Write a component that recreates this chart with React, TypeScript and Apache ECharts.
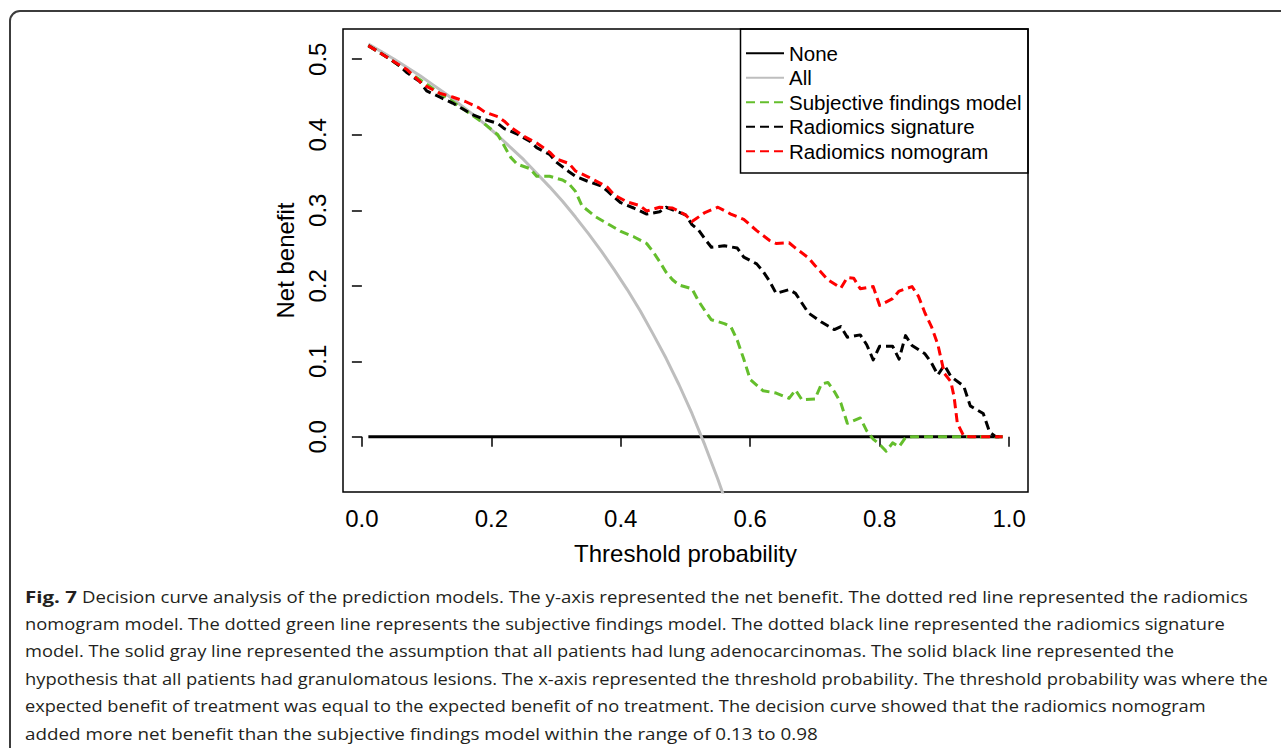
import React, { useEffect, useRef } from "react";
import * as echarts from "echarts";

// ---------- data ----------
const xTicks = [0, 0.2, 0.4, 0.6, 0.8, 1.0];
const yTicks = [0, 0.1, 0.2, 0.3, 0.4, 0.5];
const seriesNames = ["None", "All", "Subjective findings model", "Radiomics signature", "Radiomics nomogram"];

const noneLine: [number, number][] = [[0.01, 0], [0.99, 0]];

const allLine: [number, number][] = [
  [0.01, 0.52], [0.03, 0.51], [0.05, 0.5], [0.07, 0.489], [0.09, 0.478], [0.11, 0.466],
  [0.13, 0.454], [0.15, 0.441], [0.17, 0.428], [0.19, 0.414], [0.21, 0.399], [0.23, 0.383],
  [0.25, 0.367], [0.27, 0.349], [0.29, 0.331], [0.31, 0.312], [0.33, 0.291], [0.35, 0.269],
  [0.37, 0.246], [0.39, 0.221], [0.41, 0.195], [0.43, 0.167], [0.45, 0.136], [0.47, 0.104],
  [0.49, 0.069], [0.51, 0.031], [0.53, -0.011], [0.55, -0.056], [0.57, -0.105],
];

const subjectiveFindings: [number, number][] = [
  [0.01, 0.518], [0.04, 0.502], [0.07, 0.484], [0.1, 0.467], [0.12, 0.455], [0.14, 0.444],
  [0.16, 0.432], [0.18, 0.42], [0.19, 0.414], [0.21, 0.4], [0.22, 0.385], [0.23, 0.37],
  [0.24, 0.361], [0.26, 0.355], [0.27, 0.345], [0.29, 0.345], [0.31, 0.34], [0.32, 0.335],
  [0.33, 0.325], [0.34, 0.306], [0.36, 0.292], [0.38, 0.282], [0.4, 0.272], [0.42, 0.265],
  [0.44, 0.256], [0.45, 0.245], [0.46, 0.232], [0.47, 0.218], [0.48, 0.208], [0.49, 0.201],
  [0.51, 0.196], [0.52, 0.18], [0.53, 0.167], [0.54, 0.155], [0.56, 0.15], [0.57, 0.146],
  [0.58, 0.128], [0.59, 0.103], [0.6, 0.076], [0.62, 0.061], [0.64, 0.058], [0.66, 0.051],
  [0.67, 0.062], [0.68, 0.049], [0.7, 0.05], [0.71, 0.07], [0.72, 0.072], [0.73, 0.06],
  [0.74, 0.045], [0.75, 0.018], [0.77, 0.025], [0.78, 0.008], [0.79, -0.003], [0.8, -0.01],
  [0.81, -0.019], [0.82, -0.008], [0.83, -0.013], [0.84, -0.001], [0.85, 0], [0.99, 0],
];

const radiomicsSignature: [number, number][] = [
  [0.01, 0.518], [0.04, 0.502], [0.06, 0.49], [0.07, 0.482], [0.09, 0.47], [0.1, 0.458],
  [0.12, 0.45], [0.14, 0.442], [0.16, 0.432], [0.17, 0.427], [0.19, 0.42], [0.21, 0.415],
  [0.22, 0.408], [0.24, 0.401], [0.26, 0.391], [0.27, 0.383], [0.29, 0.374], [0.3, 0.364],
  [0.32, 0.351], [0.33, 0.345], [0.35, 0.338], [0.37, 0.332], [0.38, 0.325], [0.39, 0.317],
  [0.4, 0.31], [0.42, 0.303], [0.44, 0.295], [0.46, 0.298], [0.47, 0.304], [0.5, 0.294],
  [0.51, 0.281], [0.52, 0.274], [0.53, 0.262], [0.54, 0.251], [0.56, 0.253], [0.58, 0.25],
  [0.59, 0.238], [0.61, 0.229], [0.62, 0.219], [0.63, 0.206], [0.64, 0.19], [0.66, 0.195],
  [0.67, 0.19], [0.69, 0.164], [0.71, 0.152], [0.73, 0.142], [0.74, 0.146], [0.75, 0.132],
  [0.77, 0.135], [0.78, 0.122], [0.79, 0.102], [0.8, 0.12], [0.82, 0.12], [0.83, 0.103],
  [0.84, 0.134], [0.85, 0.121], [0.87, 0.11], [0.88, 0.098], [0.89, 0.082], [0.9, 0.095],
  [0.91, 0.08], [0.93, 0.067], [0.94, 0.041], [0.96, 0.031], [0.97, 0.006], [0.98, 0], [0.99, 0],
];

const radiomicsNomogram: [number, number][] = [
  [0.01, 0.518], [0.04, 0.502], [0.07, 0.486], [0.09, 0.47], [0.1, 0.464], [0.12, 0.455],
  [0.14, 0.45], [0.16, 0.444], [0.18, 0.436], [0.19, 0.43], [0.21, 0.424], [0.22, 0.418],
  [0.23, 0.41], [0.25, 0.398], [0.27, 0.389], [0.29, 0.377], [0.3, 0.368], [0.32, 0.362],
  [0.33, 0.352], [0.35, 0.344], [0.37, 0.335], [0.38, 0.33], [0.39, 0.32], [0.41, 0.311],
  [0.43, 0.306], [0.44, 0.299], [0.46, 0.304], [0.48, 0.303], [0.5, 0.294], [0.51, 0.285],
  [0.53, 0.297], [0.55, 0.304], [0.57, 0.295], [0.59, 0.288], [0.61, 0.273], [0.63, 0.26],
  [0.64, 0.256], [0.66, 0.257], [0.67, 0.25], [0.69, 0.237], [0.7, 0.227], [0.72, 0.208],
  [0.74, 0.197], [0.75, 0.211], [0.76, 0.21], [0.77, 0.196], [0.79, 0.199], [0.8, 0.174],
  [0.82, 0.183], [0.83, 0.193], [0.85, 0.199], [0.86, 0.186], [0.87, 0.164], [0.88, 0.146],
  [0.89, 0.122], [0.9, 0.084], [0.91, 0.073], [0.915, 0.053], [0.92, 0.018], [0.93, 0.001],
  [0.94, 0], [0.99, 0],
];

const axisTitleX = "Threshold probability";
const axisTitleY = "Net benefit";

const captionLead = "Fig. 7";
const captionLines = [
  "Decision curve analysis of the prediction models. The y-axis represented the net benefit. The dotted red line represented the radiomics",
  "nomogram model. The dotted green line represents the subjective findings model. The dotted black line represented the radiomics signature",
  "model. The solid gray line represented the assumption that all patients had lung adenocarcinomas. The solid black line represented the",
  "hypothesis that all patients had granulomatous lesions. The x-axis represented the threshold probability. The threshold probability was where the",
  "expected benefit of treatment was equal to the expected benefit of no treatment. The decision curve showed that the radiomics nomogram",
  "added more net benefit than the subjective findings model within the range of 0.13 to 0.98",
];

// ---------- layout ----------
const W = 1281;
const H = 748;
const gridLeft = 343;
const gridRight = 1028;
const gridTop = 29;
const gridBottom = 492;
const leadSpan = [25, 77];
const captionStart = [82, 25, 25, 25, 25, 25];
const captionEnd = [1249, 1226, 1175, 1268, 1207, 818];
const captionY0 = 596;
const captionStep = 27.4;
const captionSize = 16.5;
const captionFamily = '"Open Sans", "Noto Sans", sans-serif';
const plotFamily = '"Liberation Sans", Arial, Helvetica, sans-serif';

const colors = ["#000000", "#BEBEBE", "#64BE2C", "#000000", "#FF0000"];
const dash = [9, 5];

export default function App() {
  const ref = useRef<HTMLDivElement>(null);

  useEffect(() => {
    const el = ref.current;
    if (!el) return;
    const chart = echarts.init(el, null, { renderer: "svg" });

    const ctx = document.createElement("canvas").getContext("2d")!;
    const fit = (text: string, font: string, width: number) => {
      ctx.font = font;
      const w = ctx.measureText(text).width;
      return w > 0 ? width / w : 1;
    };

    const captionGraphics: any[] = [];
    const leadFont = `bold ${captionSize}px ${captionFamily}`;
    captionGraphics.push({
      type: "text",
      x: leadSpan[0],
      y: captionY0,
      scaleX: fit(captionLead, leadFont, leadSpan[1] - leadSpan[0]),
      style: {
        text: captionLead,
        x: 0,
        y: 0,
        fontFamily: captionFamily,
        fontSize: captionSize,
        fontWeight: "bold",
        fill: "#231f20",
        align: "left",
        verticalAlign: "middle",
      },
    });
    captionLines.forEach((line, i) => {
      const font = `${captionSize}px ${captionFamily}`;
      captionGraphics.push({
        type: "text",
        x: captionStart[i],
        y: captionY0 + i * captionStep,
        scaleX: fit(line, font, captionEnd[i] - captionStart[i]),
        style: {
          text: line,
          x: 0,
          y: 0,
          fontFamily: captionFamily,
          fontSize: captionSize,
          fill: "#231f20",
          align: "left",
          verticalAlign: "middle",
        },
      });
    });

    const datasets = [noneLine, allLine, subjectiveFindings, radiomicsSignature, radiomicsNomogram];

    const series = datasets.map((d, i) => ({
      name: seriesNames[i],
      type: "line",
      data: d,
      symbol: "none",
      smooth: false,
      clip: true,
      color: colors[i],
      lineStyle: {
        color: colors[i],
        width: 3,
        type: i >= 2 ? dash : "solid",
        cap: "butt",
        join: "round",
      },
      emphasis: { disabled: true },
      silent: true,
      z: 2 + i,
    }));

    chart.setOption({
      animation: false,
      backgroundColor: "#ffffff",
      grid: {
        left: gridLeft,
        right: W - gridRight,
        top: gridTop,
        bottom: H - gridBottom,
        show: true,
        borderColor: "#000",
        borderWidth: 1.5,
        backgroundColor: "transparent",
        containLabel: false,
      },
      xAxis: {
        type: "value",
        min: -0.0292,
        max: 1.0292,
        splitLine: { show: false },
        axisLine: { show: false },
        axisTick: {
          show: true,
          customValues: xTicks,
          length: 10,
          lineStyle: { color: "#000", width: 1.5 },
        },
        axisLabel: {
          customValues: xTicks,
          formatter: (v: number) => v.toFixed(1),
          fontSize: 24,
          fontFamily: plotFamily,
          color: "#000",
          margin: 14,
        },
        name: axisTitleX,
        nameLocation: "middle",
        nameGap: 49,
        nameTextStyle: { fontSize: 24, fontFamily: plotFamily, color: "#000" },
      },
      yAxis: {
        type: "value",
        min: -0.073,
        max: 0.54,
        splitLine: { show: false },
        axisLine: { show: false },
        axisTick: {
          show: true,
          customValues: yTicks,
          length: 10,
          lineStyle: { color: "#000", width: 1.5 },
        },
        axisLabel: {
          customValues: yTicks,
          formatter: (v: number) => v.toFixed(1),
          fontSize: 24,
          fontFamily: plotFamily,
          color: "#000",
          margin: 14,
          rotate: 90,
        },
        name: axisTitleY,
        nameLocation: "middle",
        nameGap: 46,
        nameTextStyle: { fontSize: 24, fontFamily: plotFamily, color: "#000" },
      },
      legend: {
        show: true,
        data: seriesNames,
        orient: "vertical",
        left: 745,
        top: 41,
        itemWidth: 38,
        itemHeight: 14,
        itemGap: 0,
        padding: 0,
        selectedMode: false,
        itemStyle: { opacity: 0, borderWidth: 0 },
        textStyle: { fontSize: 20.5, fontFamily: plotFamily, color: "#000", lineHeight: 24.5 },
      },
      graphic: [
        {
          type: "rect",
          shape: { x: 740.5, y: gridTop, width: gridRight - 740.5, height: 173 - gridTop },
          style: { fill: "none", stroke: "#000", lineWidth: 1.5 },
          silent: true,
        },
        {
          type: "rect",
          shape: { x: 10, y: 11, width: 1400, height: 900, r: [10, 0, 0, 0] },
          style: { fill: "none", stroke: "#3c3c3c", lineWidth: 2 },
          silent: true,
        },
        ...captionGraphics,
      ],
      series,
    });

    return () => chart.dispose();
  }, []);

  return (
    <div
      ref={ref}
      style={{ position: "absolute", left: 0, top: 0, width: W, height: H, background: "#fff" }}
    />
  );
}
